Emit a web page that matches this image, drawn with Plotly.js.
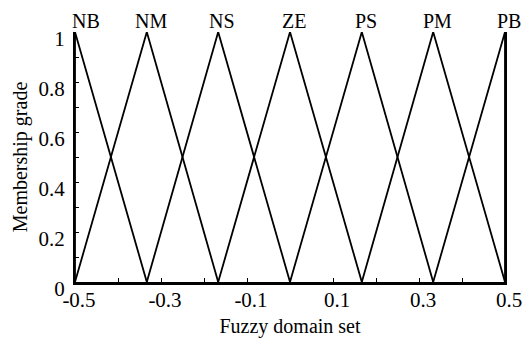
<!DOCTYPE html>
<html>
<head>
<meta charset="utf-8">
<script src="https://cdn.plot.ly/plotly-3.0.1.min.js"></script>
<style>
  html, body { margin: 0; padding: 0; background: #fff; }
  #chart { width: 523px; height: 338px; }
</style>
</head>
<body>
<div id="chart"></div>
<script>
// Linguistic terms of the fuzzy partition and the peak of each triangle
const setNames = ['NB', 'NM', 'NS', 'ZE', 'PS', 'PM', 'PB'];
const setCenters = [-0.5, -0.333, -0.167, 0, 0.167, 0.333, 0.5];
const peakGrade = 1;
const footGrade = 0;

// Axis ticks (every 0.1, only every other one labelled)
const xTickVals = [-0.5, -0.4, -0.3, -0.2, -0.1, 0, 0.1, 0.2, 0.3, 0.4, 0.5];
const xTickText = ['-0.5', '', '-0.3', '', '-0.1', '', '0.1', '', '0.3', '', '0.5'];
const yTickVals = [0, 0.1, 0.2, 0.3, 0.4, 0.5, 0.6, 0.7, 0.8, 0.9, 1];
const yTickText = ['0', '', '0.2', '', '0.4', '', '0.6', '', '0.8', '', '1'];

const FONT = '"Liberation Serif", "Times New Roman", Times, serif';

// One triangular membership function per term: feet at neighbouring centres
const traces = setNames.map((name, i) => {
  const c = setCenters[i];
  const left = i > 0 ? setCenters[i - 1] : c;
  const right = i < setCenters.length - 1 ? setCenters[i + 1] : c;
  return {
    type: 'scatter',
    mode: 'lines',
    name: name,
    x: [left, c, right],
    y: [footGrade, peakGrade, footGrade],
    line: { color: '#000', width: 1.8 },
    hoverinfo: 'skip',
    showlegend: false
  };
});

// Term labels above each peak
const annotations = setNames.map((name, i) => ({
  x: setCenters[i],
  y: peakGrade,
  xref: 'x',
  yref: 'y',
  text: name,
  showarrow: false,
  xshift: i === 0 ? 11 : 4,
  yshift: 11,
  font: { family: FONT, size: 20, color: '#000' }
}));

const layout = {
  width: 523,
  height: 338,
  margin: { l: 75, r: 18, t: 32, b: 56 },
  paper_bgcolor: '#fff',
  plot_bgcolor: '#fff',
  font: { family: FONT, size: 20, color: '#000' },
  showlegend: false,
  annotations: annotations,
  xaxis: {
    range: [-0.5, 0.5],
    tickmode: 'array',
    tickvals: xTickVals,
    ticktext: xTickText,
    ticks: 'inside',
    ticklen: 4,
    tickwidth: 1,
    tickcolor: '#000',
    ticklabelstandoff: -3,
    ticklabelshift: 4,
    showgrid: false,
    zeroline: false,
    showline: true,
    linecolor: '#000',
    linewidth: 3,
    tickfont: { family: FONT, size: 21, color: '#000' },
    title: { text: 'Fuzzy domain set', font: { family: FONT, size: 20, color: '#000' }, standoff: 10 }
  },
  yaxis: {
    range: [0, 1],
    tickmode: 'array',
    tickvals: yTickVals,
    ticktext: yTickText,
    ticks: 'inside',
    ticklen: 4,
    tickwidth: 1,
    tickcolor: '#000',
    ticklabelstandoff: 4,
    ticklabelshift: 7,
    showgrid: false,
    zeroline: false,
    showline: true,
    mirror: true,
    linecolor: '#000',
    linewidth: 2,
    tickfont: { family: FONT, size: 21, color: '#000' },
    title: { text: 'Membership grade', font: { family: FONT, size: 20, color: '#000' }, standoff: 6 }
  }
};

Plotly.newPlot('chart', traces, layout, { displayModeBar: false, staticPlot: true });
</script>
</body>
</html>
